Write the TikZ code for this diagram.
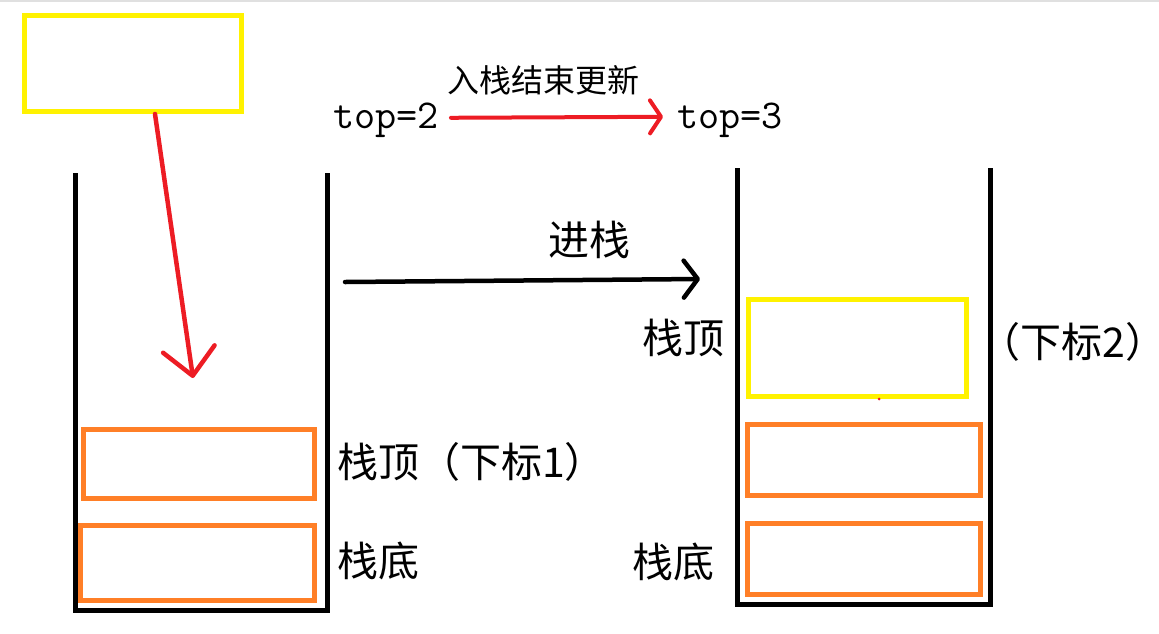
\documentclass[tikz,border=0pt]{standalone}
\usepackage{fontspec}
\newfontfamily\cjk{Noto Sans CJK SC}
\newfontfamily\cjkh[RawFeature=+halt]{Noto Sans CJK SC}
\usetikzlibrary{arrows.meta}
\definecolor{ylw}{RGB}{255,242,0}
\definecolor{org}{RGB}{255,127,39}
\definecolor{rd}{RGB}{237,28,36}
\begin{document}
\begin{tikzpicture}[x=1pt,y=-1pt,
  box/.style={line width=5pt,inner sep=0pt,fill=none},
  ybox/.style={box,draw=ylw},
  obox/.style={box,draw=org},
  wall/.style={line width=5pt,draw=black,line join=miter},
  lbl/.style={font=\cjk\fontsize{41}{50}\selectfont,inner sep=0pt,anchor=west},
  smalllbl/.style={font=\cjk\fontsize{32}{38}\selectfont,inner sep=0pt,anchor=west},
  toplbl/.style={font=\ttfamily\fontsize{41}{48}\selectfont,inner sep=0pt,anchor=base west},
  redarrow/.style={draw=rd,line width=4.5pt,line cap=round,
    -{Straight Barb[length=27pt,width=52pt,line cap=round,line join=round]}},
  redarrowsmall/.style={draw=rd,line width=4pt,line cap=round,
    -{Straight Barb[length=11pt,width=33pt,line cap=round,line join=round]}},
  blackarrow/.style={draw=black,line width=4.5pt,line cap=round,
    -{Straight Barb[length=14pt,width=37pt,line cap=round,line join=round]}}
]
\useasboundingbox (0,0) rectangle (1159,633);
\draw[black!12,line width=1.5pt] (0,1) -- (1159,1);

% left stack
\coordinate (lst1) at (75.5,173);
\coordinate (lst2) at (75.5,610);
\coordinate (lst3) at (327,610);
\coordinate (lst4) at (327,173);
\draw[wall] (lst1) -- (lst2) -- (lst3) -- (lst4);

% right stack
\coordinate (rst1) at (737.5,168);
\coordinate (rst2) at (737.5,604);
\coordinate (rst3) at (990,604);
\coordinate (rst4) at (990,168);
\draw[wall] (rst1) -- (rst2) -- (rst3) -- (rst4);

% boxes
\node[ybox,minimum width=217pt,minimum height=96pt] (newbox) at (133,63.5) {};
\node[obox,minimum width=231pt,minimum height=69pt] (lo1) at (199,464) {};
\node[obox,minimum width=234pt,minimum height=75pt] (lo2) at (197.5,563) {};
\node[ybox,minimum width=218pt,minimum height=96.5pt] (ry) at (857.5,347.8) {};
\node[obox,minimum width=233pt,minimum height=71pt] (ro1) at (864,460) {};
\node[obox,minimum width=233pt,minimum height=71pt] (ro2) at (864,559) {};
\fill[rd] (879,399) circle (1.5pt);

% red push arrow
\coordinate (rtip) at (193,378);
\draw[redarrow] ([xshift=22pt]newbox.south) -- (rtip);

% labels
\node[lbl] (l1) at (337,462) {栈顶（下标1）};
\node[lbl] (l2) at (337,561) {栈底};
\node[lbl] (r1) at (642,337.5) {栈顶};
\node[lbl,font=\cjkh\fontsize{41}{50}\selectfont] (r2) at (1000,342) {（下标2）};
\node[lbl] (r3) at (632,562) {栈底};

% top update
\node[toplbl] (t2) at (333,128) {top=2};
\node[toplbl] (t3) at (677,128) {top=3};
\node[smalllbl] (upd) at (447,80) {入栈结束更新};
\draw[redarrowsmall] ([xshift=12pt,yshift=2pt]t2.east) -- ([xshift=-14pt,yshift=3pt]t3.west);

% push arrow
\coordinate (bs) at (345,282);
\coordinate (be) at (700,279);
\draw[blackarrow] (bs) -- (be);
\node[lbl] (push) at (548,240) {进栈};
\end{tikzpicture}
\end{document}
